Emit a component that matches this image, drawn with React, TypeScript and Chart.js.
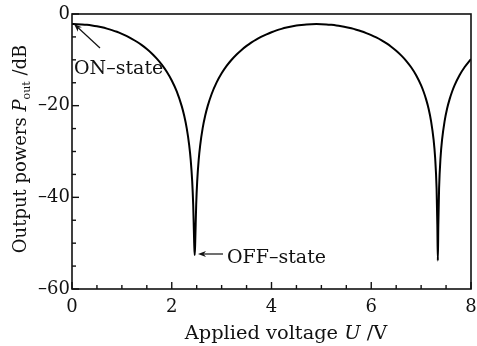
import React, { useEffect, useRef } from "react";
import { Chart, registerables } from "chart.js";

Chart.register(...registerables);

// Applied voltage U (V)
const voltages: number[] = [
  0, 0.1, 0.2, 0.3, 0.4, 0.5, 0.6, 0.7, 0.8, 0.9, 1.0, 1.1, 1.2, 1.3, 1.4, 1.5, 1.6, 1.7,
  1.8, 1.9, 2.0, 2.1, 2.2, 2.25, 2.3, 2.35, 2.38, 2.41, 2.43, 2.45, 2.46, 2.47, 2.49, 2.51,
  2.54, 2.57, 2.62, 2.67, 2.72, 2.8, 2.9, 3.0, 3.1, 3.2, 3.3, 3.4, 3.5, 3.6, 3.7, 3.8, 3.9,
  4.0, 4.1, 4.2, 4.3, 4.4, 4.5, 4.6, 4.7, 4.8, 4.9, 5.0, 5.1, 5.2, 5.3, 5.4, 5.5, 5.6, 5.7,
  5.8, 5.9, 6.0, 6.1, 6.2, 6.3, 6.4, 6.5, 6.6, 6.7, 6.8, 6.9, 7.0, 7.05, 7.1, 7.15, 7.2,
  7.25, 7.28, 7.31, 7.325, 7.335, 7.345, 7.36, 7.39, 7.42, 7.47, 7.52, 7.57, 7.62, 7.67,
  7.77, 7.87, 7.97, 8.0,
];
// Output power P_out (dB)
const powers: number[] = [
  -2.2, -2.21, -2.27, -2.36, -2.5, -2.68, -2.91, -3.19, -3.51, -3.88, -4.33, -4.83, -5.41,
  -6.05, -6.8, -7.64, -8.61, -9.73, -11.04, -12.6, -14.5, -16.89, -20.1, -22.21, -24.91,
  -28.65, -31.82, -36.52, -41.61, -50.0, -52.6, -50.0, -41.61, -36.52, -31.82, -28.65,
  -24.91, -22.21, -20.1, -17.45, -14.93, -12.95, -11.33, -9.98, -8.82, -7.83, -6.96, -6.19,
  -5.53, -4.94, -4.43, -3.97, -3.58, -3.25, -2.96, -2.72, -2.53, -2.39, -2.28, -2.22, -2.2,
  -2.22, -2.27, -2.37, -2.5, -2.67, -2.87, -3.12, -3.42, -3.76, -4.16, -4.61, -5.12, -5.7,
  -6.37, -7.13, -8.01, -9.02, -10.21, -11.62, -13.36, -15.58, -16.97, -18.63, -20.67,
  -23.42, -27.43, -31.21, -38.06, -46.0, -53.8, -46.0, -38.06, -31.21, -27.43, -23.42,
  -20.67, -18.63, -16.97, -15.58, -13.36, -11.62, -10.21, -9.83,
];

const xTickLabels: number[] = [0, 2, 4, 6, 8];
const yTickLabels: number[] = [0, -20, -40, -60];
const xMinorStep = 0.5;
const yMinorStep = 5;

const SERIF = "'DejaVu Serif', serif";

function arrow(ctx: CanvasRenderingContext2D, x1: number, y1: number, x2: number, y2: number) {
  const ang = Math.atan2(y2 - y1, x2 - x1);
  const hl = 8;
  const hw = 3;
  ctx.beginPath();
  ctx.moveTo(x1, y1);
  ctx.lineTo(x2 - Math.cos(ang) * hl * 0.7, y2 - Math.sin(ang) * hl * 0.7);
  ctx.stroke();
  ctx.beginPath();
  ctx.moveTo(x2, y2);
  ctx.lineTo(x2 - Math.cos(ang) * hl - Math.sin(ang) * hw, y2 - Math.sin(ang) * hl + Math.cos(ang) * hw);
  ctx.lineTo(x2 - Math.cos(ang) * hl * 0.7, y2 - Math.sin(ang) * hl * 0.7);
  ctx.lineTo(x2 - Math.cos(ang) * hl + Math.sin(ang) * hw, y2 - Math.sin(ang) * hl - Math.cos(ang) * hw);
  ctx.closePath();
  ctx.fill();
}

const decorPlugin = {
  id: "decor",
  afterDraw(chart: any) {
    const ctx: CanvasRenderingContext2D = chart.ctx;
    const { left, right, top, bottom } = chart.chartArea;
    const xs = chart.scales.x;
    const ys = chart.scales.y;
    ctx.save();
    ctx.strokeStyle = "#111";
    ctx.fillStyle = "#111";
    ctx.lineWidth = 1.6;
    ctx.strokeRect(left, top, right - left, bottom - top);

    // inward ticks
    ctx.lineWidth = 1.4;
    for (let v = xs.min; v <= xs.max + 1e-9; v += xMinorStep) {
      const px = xs.getPixelForValue(v);
      const major = xTickLabels.includes(Math.round(v * 100) / 100);
      ctx.beginPath();
      ctx.moveTo(px, bottom);
      ctx.lineTo(px, bottom - (major ? 7 : 4));
      ctx.stroke();
    }
    for (let v = ys.min; v <= ys.max + 1e-9; v += yMinorStep) {
      const py = ys.getPixelForValue(v);
      const major = yTickLabels.includes(v);
      ctx.beginPath();
      ctx.moveTo(left, py);
      ctx.lineTo(left + (major ? 7 : 4), py);
      ctx.stroke();
    }

    // annotations
    ctx.lineWidth = 1.2;
    arrow(ctx, 100, 48, 74, 24);
    arrow(ctx, 223, 254, 198, 254);
    ctx.font = `19px ${SERIF}`;
    ctx.textBaseline = "alphabetic";
    ctx.textAlign = "left";
    ctx.fillText("ON\u2013state", 74, 74);
    ctx.fillText("OFF\u2013state", 227, 263);

    // x title
    const fx = 19.4;
    const parts: [string, string][] = [
      ["Applied voltage ", `${fx}px ${SERIF}`],
      ["U", `italic ${fx}px ${SERIF}`],
      [" /V", `${fx}px ${SERIF}`],
    ];
    let total = 0;
    for (const [t, f] of parts) {
      ctx.font = f;
      total += ctx.measureText(t).width;
    }
    let x = 286 - total / 2;
    for (const [t, f] of parts) {
      ctx.font = f;
      ctx.fillText(t, x, 339);
      x += ctx.measureText(t).width;
    }

    // y title (rotated)
    const fy = 18;
    const yparts: [string, string, number][] = [
      ["Output powers ", `${fy}px ${SERIF}`, 0],
      ["P", `italic ${fy}px ${SERIF}`, 0],
      ["out", `11px ${SERIF}`, 4],
      [" /dB", `${fy}px ${SERIF}`, 0],
    ];
    ctx.save();
    ctx.translate(26, 149);
    ctx.rotate(-Math.PI / 2);
    let tw = 0;
    for (const [t, f] of yparts) {
      ctx.font = f;
      tw += ctx.measureText(t).width;
    }
    let yx = -tw / 2;
    for (const [t, f, dy] of yparts) {
      ctx.font = f;
      ctx.fillText(t, yx, dy);
      yx += ctx.measureText(t).width;
    }
    ctx.restore();
    ctx.restore();
  },
};

export default function App() {
  const ref = useRef<HTMLCanvasElement | null>(null);
  useEffect(() => {
    if (!ref.current) return;
    const chart = new Chart(ref.current, {
      type: "line",
      data: {
        datasets: [
          {
            data: voltages.map((v, i) => ({ x: v, y: powers[i] })),
            borderColor: "#000",
            borderWidth: 2,
            pointRadius: 0,
            cubicInterpolationMode: "monotone",
            fill: false,
          },
        ],
      },
      options: {
        animation: false,
        responsive: true,
        maintainAspectRatio: false,
        layout: { padding: { left: 0, top: 14, right: 6, bottom: 0 } },
        plugins: { legend: { display: false }, tooltip: { enabled: false }, title: { display: false } },
        scales: {
          x: {
            type: "linear",
            min: 0,
            max: 8,
            afterFit: (s: any) => {
              s.height = 57;
              s.paddingLeft = 0;
              s.paddingRight = 0;
            },
            afterBuildTicks: (s: any) => {
              s.ticks = xTickLabels.map((v) => ({ value: v }));
            },
            grid: { display: false, drawTicks: false },
            border: { display: false },
            ticks: {
              color: "#111",
              font: { family: SERIF, size: 18 },
              padding: 8,
              maxRotation: 0,
              autoSkip: false,
            },
          },
          y: {
            type: "linear",
            min: -60,
            max: 0,
            afterFit: (s: any) => {
              s.width = 72;
              s.paddingTop = 0;
              s.paddingBottom = 0;
            },
            afterBuildTicks: (s: any) => {
              s.ticks = yTickLabels.map((v) => ({ value: v }));
            },
            grid: { display: false, drawTicks: false },
            border: { display: false },
            ticks: {
              color: "#111",
              font: { family: SERIF, size: 18 },
              padding: 2,
              autoSkip: false,
              callback: (v: any) => (v < 0 ? "\u2013" + Math.abs(v) : String(v)),
            },
          },
        },
      },
      plugins: [decorPlugin],
    });
    return () => chart.destroy();
  }, []);
  return (
    <div style={{ position: "fixed", left: 0, top: 0, width: 477, height: 346, background: "#fff" }}>
      <canvas ref={ref} />
    </div>
  );
}
